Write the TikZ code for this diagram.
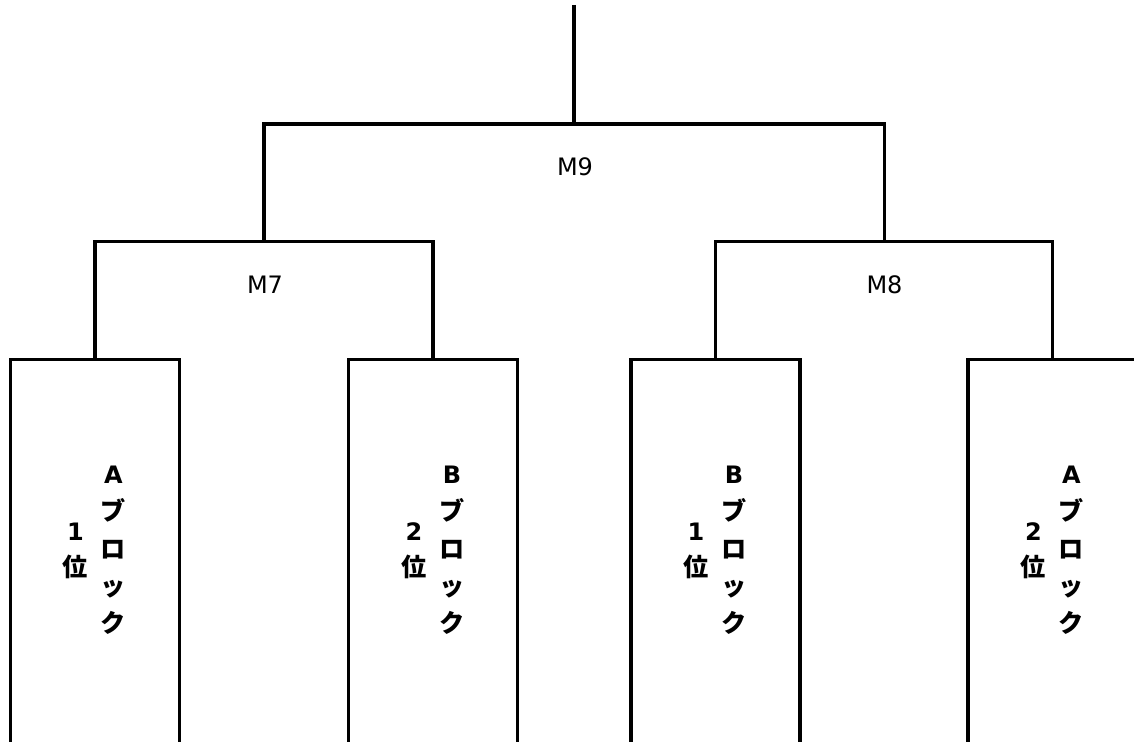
\documentclass[tikz,border=0pt]{standalone}
\usepackage{fontspec}
\setmainfont{DejaVu Sans}
\newfontfamily\jp{Noto Sans CJK JP}[Scale=1.05]
\newcommand\rs{\rule[-8pt]{0pt}{26pt}}
\begin{document}
\begin{tikzpicture}[x=1pt,y=-1pt,
  box/.style={draw, line width=3.3pt, minimum width=169pt, minimum height=420pt, anchor=north, inner sep=0pt, outer sep=0pt},
  lbl/.style={font=\fontsize{24}{28}\selectfont, inner sep=0pt},
  colA/.style={align=center, font=\bfseries\fontsize{24}{37.3}\selectfont, inner sep=0pt},
  colB/.style={align=center, font=\bfseries\fontsize{24}{36}\selectfont, inner sep=0pt},
  wire/.style={line width=3.3pt}]
\useasboundingbox (0,0) rectangle (1134,741);
\clip (0,0) rectangle (1134,741);
% boxes
\node[box] (b1) at (95,359.5) {};
\node[box] (b2) at (433,359.5) {};
\node[box] (b3) at (715.5,359.5) {};
\node[box] (b4) at (1052.5,359.5) {};
% junctions
\coordinate (top) at (574,5);
\coordinate (j9) at (574,124);
\coordinate (j7) at (264,241.5);
\coordinate (j8) at (884.5,241.5);
\draw[wire] (top) -- (j9);
\draw[wire] (j7) |- (j9) -| (j8);
\draw[wire] (b1.north) |- (j7) -| (b2.north);
\draw[wire] (b3.north) |- (j8) -| (b4.north);
% match labels
\node[lbl] (m9) at (575,167) {M9};
\node[lbl] (m7) at (265,285) {M7};
\node[lbl] (m8) at (884.5,285) {M8};
% box texts
\node[colA] (t1a) at (113.5,553) {\rs A\\\rs{\jp ブ}\\\rs{\jp ロ}\\\rs{\jp ッ}\\\rs{\jp ク}};
\node[colB] (t1b) at (75.5,553) {\rs 1\\\rs{\jp 位}};
\node[colA] (t2a) at (452,553) {\rs B\\\rs{\jp ブ}\\\rs{\jp ロ}\\\rs{\jp ッ}\\\rs{\jp ク}};
\node[colB] (t2b) at (414,553) {\rs 2\\\rs{\jp 位}};
\node[colA] (t3a) at (734,553) {\rs B\\\rs{\jp ブ}\\\rs{\jp ロ}\\\rs{\jp ッ}\\\rs{\jp ク}};
\node[colB] (t3b) at (696,553) {\rs 1\\\rs{\jp 位}};
\node[colA] (t4a) at (1071.5,553) {\rs A\\\rs{\jp ブ}\\\rs{\jp ロ}\\\rs{\jp ッ}\\\rs{\jp ク}};
\node[colB] (t4b) at (1033.5,553) {\rs 2\\\rs{\jp 位}};
\end{tikzpicture}
\end{document}
